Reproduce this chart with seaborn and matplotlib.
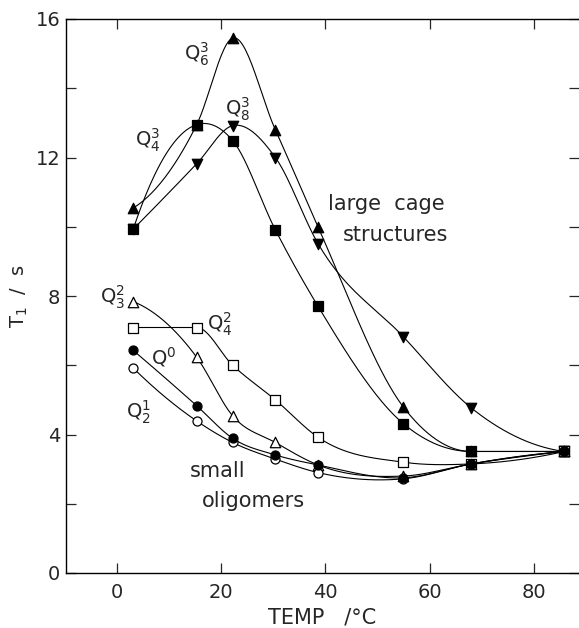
import numpy as np
import matplotlib
matplotlib.use("Agg")
import matplotlib.pyplot as plt
import seaborn as sns

# temperatures (deg C) at which T1 was measured
temp = [3.1, 15.3, 22.2, 30.4, 38.6, 55.0, 68.0, 85.9]

# large cage structures
q63 = [10.54, 12.95, 15.45, 12.80, 9.99, 4.79, 3.51, 3.51]
q43 = [9.93, 12.95, 12.49, 9.91, 7.70, 4.31, 3.51, 3.51]
q83 = [9.93, 11.82, 12.92, 12.00, 9.51, 6.82, 4.77, 3.51]

# small oligomers
q32 = [7.84, 6.23, 4.54, 3.77, 3.12, 2.80, 3.15, 3.51]
q42 = [7.09, 7.09, 6.00, 5.00, 3.92, 3.20, 3.15, 3.51]
q0 = [6.43, 4.83, 3.89, 3.41, 3.12, 2.75, 3.15, 3.51]
q21 = [5.92, 4.39, 3.77, 3.29, 2.90, 2.72, 3.15, 3.51]

labels = [r"$Q_6^3$", r"$Q_8^3$", r"$Q_4^3$", r"$Q_3^2$", r"$Q_4^2$", r"$Q^0$", r"$Q_2^1$"]
label_x = [15.2, 23.2, 5.9, -0.8, 19.8, 9.0, 4.2]
label_y = [14.97, 13.4, 12.5, 7.95, 7.17, 6.24, 4.65]


def _edge(h0, h1, d0, d1):
    m = ((2 * h0 + h1) * d0 - h0 * d1) / (h0 + h1)
    if np.sign(m) != np.sign(d0):
        m = 0.0
    elif np.sign(d0) != np.sign(d1) and abs(m) > abs(3 * d0):
        m = 3 * d0
    return m


def smooth(x, y, n=300):
    # cubic hermite curve through the measured points (drawing only)
    x = np.asarray(x, float)
    y = np.asarray(y, float)
    h = np.diff(x)
    d = np.diff(y) / h
    m = np.zeros_like(y)
    for k in range(1, len(x) - 1):
        if d[k - 1] * d[k] != 0:
            m[k] = (h[k] * d[k - 1] + h[k - 1] * d[k]) / (h[k - 1] + h[k])
    m[0] = _edge(h[0], h[1], d[0], d[1])
    m[-1] = _edge(h[-1], h[-2], d[-1], d[-2])
    xs = np.linspace(x[0], x[-1], n)
    i = np.clip(np.searchsorted(x, xs) - 1, 0, len(h) - 1)
    t = (xs - x[i]) / h[i]
    h00 = 2 * t**3 - 3 * t**2 + 1
    h10 = t**3 - 2 * t**2 + t
    h01 = -2 * t**3 + 3 * t**2
    h11 = t**3 - t**2
    ys = h00 * y[i] + h10 * h[i] * m[i] + h01 * y[i + 1] + h11 * h[i] * m[i + 1]
    return xs, ys


sns.set_style("ticks")
plt.rcParams["font.family"] = ["DejaVu Sans"]
plt.rcParams["mathtext.default"] = "regular"

fig = plt.figure(figsize=(5.79, 6.28), dpi=100)
ax = fig.add_axes([66 / 579, 55 / 628, 513 / 579, 554 / 628])

series = [
    (q83, "v", "black", 7.5),
    (q63, "^", "black", 7.5),
    (q43, "s", "black", 6.5),
    (q42, "s", "white", 6.5),
    (q32, "^", "white", 7.5),
    (q21, "o", "white", 6.5),
    (q0, "o", "black", 6.5),
]

for vals, mk, face, ms in series:
    xs, ys = smooth(temp, vals)
    sns.lineplot(x=xs, y=ys, ax=ax, color="black", linewidth=0.8,
                 sort=False, estimator=None)
    sns.scatterplot(x=temp, y=vals, ax=ax, marker=mk, s=ms**2, color=face,
                    edgecolor="black", linewidth=0.9, zorder=3)

for lab, lx, ly in zip(labels, label_x, label_y):
    ax.text(lx, ly, lab, fontsize=14, ha="center", va="center")

ax.text(40.5, 10.66, "large  cage", fontsize=15, ha="left", va="center")
ax.text(43.4, 9.77, "structures", fontsize=15, ha="left", va="center")
ax.text(14.0, 2.95, "small", fontsize=15, ha="left", va="center")
ax.text(16.3, 2.08, "oligomers", fontsize=15, ha="left", va="center")

ax.set_xlim(-9.8, 88.7)
ax.set_ylim(0, 16)
ax.set_xticks([0, 20, 40, 60, 80])
ax.set_yticks([0, 4, 8, 12, 16])
ax.set_yticks([2, 6, 10, 14], minor=True)
ax.tick_params(which="both", direction="in", top=True, right=True,
               length=7, width=0.9, labelsize=14)
ax.tick_params(axis="x", pad=7)
ax.tick_params(axis="y", pad=4)
for sp in ax.spines.values():
    sp.set_linewidth(1.0)
    sp.set_color("black")
ax.spines["right"].set_visible(False)

ax.set_xlabel("TEMP   /°C", fontsize=15, labelpad=4)
ax.set_ylabel(r"T$_1$  /  s", fontsize=14, labelpad=4)

fig.savefig("out.png", dpi=100)
